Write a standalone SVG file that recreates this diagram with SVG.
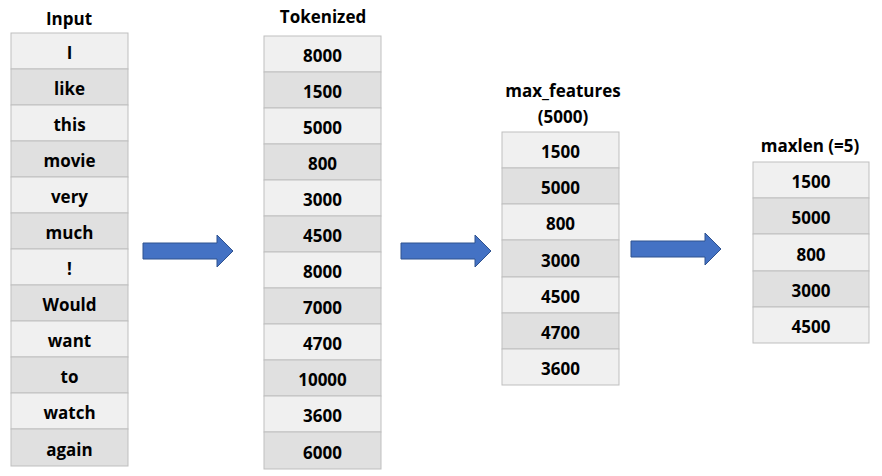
<svg xmlns="http://www.w3.org/2000/svg" width="882" height="476" viewBox="0 0 882 476">
<style>
.l{fill:#F0F0F0;stroke:#BFBFBF;stroke-width:1}
.d{fill:#E0E0E0;stroke:#BFBFBF;stroke-width:1}
text{font-family:"Open Sans","Liberation Sans",sans-serif;font-weight:bold;font-size:17px;fill:#000;text-anchor:middle}
.ar{fill:#4472C4;stroke:#2F528F;stroke-width:1}
</style>
<rect width="882" height="476" fill="#fff"/>
<g id="input">
<text x="69" y="25">Input</text>
<rect class="l" x="11" y="33" width="117" height="36"/><text x="69.5" y="59">I</text>
<rect class="d" x="11" y="69" width="117" height="36"/><text x="69.5" y="95">like</text>
<rect class="l" x="11" y="105" width="117" height="36"/><text x="69.5" y="131">this</text>
<rect class="d" x="11" y="141" width="117" height="36"/><text x="69.5" y="167">movie</text>
<rect class="l" x="11" y="177" width="117" height="36"/><text x="69.5" y="203">very</text>
<rect class="d" x="11" y="213" width="117" height="36"/><text x="69.5" y="239">much</text>
<rect class="l" x="11" y="249" width="117" height="36"/><text x="69.5" y="275">!</text>
<rect class="d" x="11" y="285" width="117" height="36"/><text x="69.5" y="311">Would</text>
<rect class="l" x="11" y="321" width="117" height="36"/><text x="69.5" y="347">want</text>
<rect class="d" x="11" y="357" width="117" height="36"/><text x="69.5" y="383">to</text>
<rect class="l" x="11" y="393" width="117" height="36"/><text x="69.5" y="419">watch</text>
<rect class="d" x="11" y="429" width="117" height="37"/><text x="69.5" y="456">again</text>
</g>
<g id="tokenized">
<text x="323" y="23">Tokenized</text>
<rect class="l" x="264" y="36" width="117" height="36"/><text x="322.5" y="62">8000</text>
<rect class="d" x="264" y="72" width="117" height="36"/><text x="322.5" y="98">1500</text>
<rect class="l" x="264" y="108" width="117" height="36"/><text x="322.5" y="134">5000</text>
<rect class="d" x="264" y="144" width="117" height="36"/><text x="322.5" y="170">800</text>
<rect class="l" x="264" y="180" width="117" height="36"/><text x="322.5" y="206">3000</text>
<rect class="d" x="264" y="216" width="117" height="36"/><text x="322.5" y="242">4500</text>
<rect class="l" x="264" y="252" width="117" height="36"/><text x="322.5" y="278">8000</text>
<rect class="d" x="264" y="288" width="117" height="36"/><text x="322.5" y="314">7000</text>
<rect class="l" x="264" y="324" width="117" height="36"/><text x="322.5" y="350">4700</text>
<rect class="d" x="264" y="360" width="117" height="36"/><text x="322.5" y="386">10000</text>
<rect class="l" x="264" y="396" width="117" height="36"/><text x="322.5" y="422">3600</text>
<rect class="d" x="264" y="432" width="117" height="37"/><text x="322.5" y="459">6000</text>
</g>
<g id="max_features">
<text x="563" y="97">max_features</text>
<text x="563" y="123">(5000)</text>
<rect class="l" x="502" y="132" width="117" height="36"/><text x="560.5" y="158">1500</text>
<rect class="d" x="502" y="168" width="117" height="36"/><text x="560.5" y="194">5000</text>
<rect class="l" x="502" y="204" width="117" height="36"/><text x="560.5" y="230">800</text>
<rect class="d" x="502" y="240" width="117" height="37"/><text x="560.5" y="267">3000</text>
<rect class="l" x="502" y="277" width="117" height="36"/><text x="560.5" y="303">4500</text>
<rect class="d" x="502" y="313" width="117" height="36"/><text x="560.5" y="339">4700</text>
<rect class="l" x="502" y="349" width="117" height="36"/><text x="560.5" y="375">3600</text>
</g>
<g id="maxlen">
<text x="810" y="152">maxlen (=5)</text>
<rect class="l" x="753" y="162" width="116" height="36"/><text x="811" y="188">1500</text>
<rect class="d" x="753" y="198" width="116" height="36"/><text x="811" y="224">5000</text>
<rect class="l" x="753" y="234" width="116" height="37"/><text x="811" y="261">800</text>
<rect class="d" x="753" y="271" width="116" height="36"/><text x="811" y="297">3000</text>
<rect class="l" x="753" y="307" width="116" height="36"/><text x="811" y="333">4500</text>
</g>
<g id="connectors">
<polygon class="ar" points="143,243 217,243 217,235 233,251 217,267 217,259 143,259"/>
<polygon class="ar" points="401,243 475,243 475,235 491,251 475,267 475,259 401,259"/>
<polygon class="ar" points="631,241 705,241 705,233 721,249 705,265 705,257 631,257"/>
</g>
</svg>
